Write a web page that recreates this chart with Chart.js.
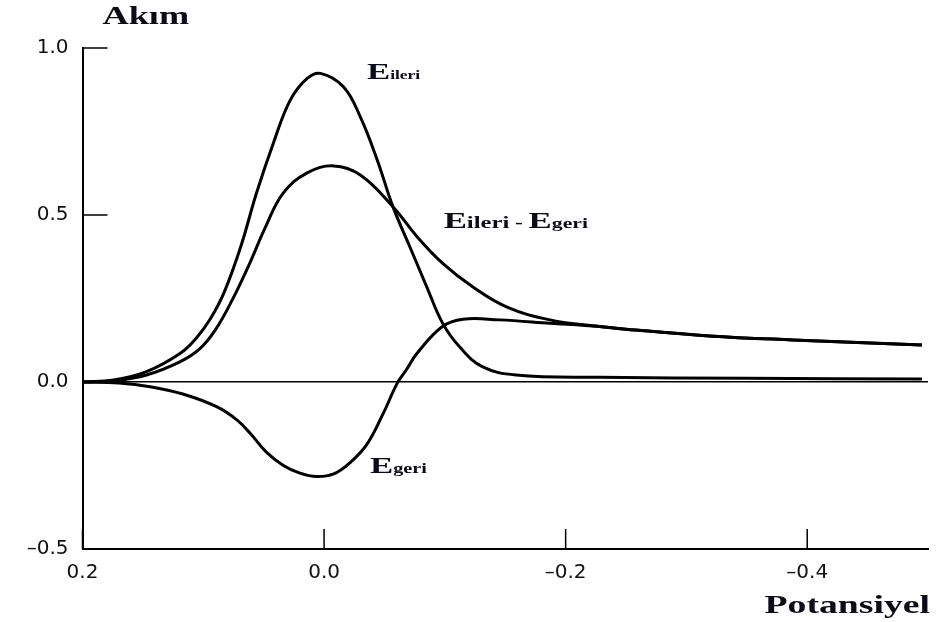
<!DOCTYPE html>
<html>
<head>
<meta charset="utf-8">
<script src="https://cdn.jsdelivr.net/npm/chart.js@4"></script>
<style>
    body { margin: 0; background: #fff; }
</style>
</head>
<body>
<canvas id="voltChart" width="940" height="622"></canvas>
<script>
// potential (x) and current (y) values
const xIleri = [0.2, 0.174, 0.147, 0.119, 0.105, 0.094, 0.083, 0.069, 0.056, 0.042, 0.028, 0.014, 0.003, -0.016, -0.030, -0.044, -0.057, -0.071, -0.085, -0.098, -0.112, -0.131, -0.159, -0.228, -0.35, -0.495];
const yIleri = [0, 0.006, 0.031, 0.086, 0.135, 0.19, 0.266, 0.405, 0.565, 0.715, 0.844, 0.909, 0.924, 0.884, 0.794, 0.665, 0.525, 0.405, 0.285, 0.177, 0.106, 0.046, 0.021, 0.014, 0.011, 0.009];

const xFark = [0.2, 0.174, 0.147, 0.119, 0.103, 0.090, 0.076, 0.061, 0.049, 0.034, 0.014, -0.008, -0.030, -0.057, -0.077, -0.098, -0.123, -0.151, -0.187, -0.228, -0.25, -0.319, -0.388, -0.495];
const yFark = [0, 0.004, 0.021, 0.061, 0.099, 0.156, 0.246, 0.36, 0.46, 0.565, 0.626, 0.647, 0.620, 0.525, 0.435, 0.356, 0.285, 0.225, 0.186, 0.166, 0.158, 0.138, 0.126, 0.111];

const xGeri = [0.2, 0.17, 0.144, 0.117, 0.089, 0.072, 0.061, 0.048, 0.034, 0.020, 0.006, -0.008, -0.021, -0.035, -0.049, -0.0605, -0.068, -0.077, -0.098, -0.115, -0.145, -0.187, -0.228, -0.25, -0.319, -0.388, -0.495];
const yGeri = [0, -0.003, -0.014, -0.036, -0.074, -0.114, -0.154, -0.209, -0.249, -0.273, -0.283, -0.275, -0.243, -0.189, -0.094, -0.004, 0.036, 0.086, 0.166, 0.188, 0.186, 0.176, 0.166, 0.158, 0.138, 0.126, 0.111];

const xTicks = [0.2, 0, -0.2, -0.4];
const xTickLabels = ['0.2', '0.0', '\u20130.2', '\u20130.4'];
const yTicks = [1.0, 0.5, 0, -0.5];
const yTickLabels = ['1.0', '0.5', '0.0', '\u20130.5'];

const toPoints = (xs, ys) => xs.map((x, i) => ({ x, y: ys[i] }));

const SERIF = '"Liberation Serif", "Times New Roman", serif';
const STRETCH = 1.45;
const INK = '#0b0b1a';

// curve labels, anchored in data coordinates (left edge, baseline)
const curveLabels = [
    { x: -0.0355, y: 0.907, parts: [['E', 24], ['ileri', 12]] },
    { x: -0.099, y: 0.461, parts: [['E', 24], ['ileri', 17], [' - ', 16], ['E', 24], ['geri', 15]] },
    { x: -0.038, y: -0.272, parts: [['E', 24], ['geri', 14]] },
];

const drawStretched = (ctx, text, x, y, size, align) => {
    ctx.save();
    ctx.font = 'bold ' + size + 'px ' + SERIF;
    const w = ctx.measureText(text).width * STRETCH;
    ctx.translate(align === 'right' ? x - w : x, y);
    ctx.scale(STRETCH, 1);
    ctx.textBaseline = 'alphabetic';
    ctx.textAlign = 'left';
    ctx.fillText(text, 0, 0);
    ctx.restore();
    return w;
};

const decorations = {
    id: 'decorations',
    afterDraw(chart) {
        const { ctx, chartArea, scales } = chart;
        ctx.save();
        ctx.strokeStyle = '#000';
        ctx.lineWidth = 1.5;
        ctx.beginPath();
        yTicks.forEach((v) => {
            const py = scales.y.getPixelForValue(v);
            ctx.moveTo(chartArea.left, py);
            ctx.lineTo(chartArea.left + 25, py);
        });
        xTicks.forEach((v) => {
            const px = scales.x.getPixelForValue(v);
            ctx.moveTo(px, chartArea.bottom);
            ctx.lineTo(px, chartArea.bottom - 20);
        });
        ctx.stroke();

        ctx.fillStyle = INK;
        drawStretched(ctx, 'Akım', chartArea.left + 20, 24, 25);
        drawStretched(ctx, 'Potansiyel', 930, 613, 26, 'right');

        curveLabels.forEach((label) => {
            let px = scales.x.getPixelForValue(label.x);
            const py = scales.y.getPixelForValue(label.y);
            label.parts.forEach(([text, size]) => {
                px += drawStretched(ctx, text, px, py, size);
            });
        });
        ctx.restore();
    },
};

const line = (xs, ys) => ({
    data: toPoints(xs, ys),
    borderColor: '#000',
    borderWidth: 3,
    pointRadius: 0,
    fill: false,
    tension: 0.4,
});

new Chart(document.getElementById('voltChart'), {
    type: 'line',
    data: {
        datasets: [line(xIleri, yIleri), line(xFark, yFark), line(xGeri, yGeri)],
    },
    options: {
        responsive: false,
        animation: false,
        devicePixelRatio: 1,
        layout: {
            padding: { top: 48, right: 12, bottom: 0, left: 0 },
        },
        plugins: {
            legend: { display: false },
            tooltip: { enabled: false },
        },
        scales: {
            x: {
                type: 'linear',
                reverse: true,
                min: -0.5,
                max: 0.2,
                afterBuildTicks: (scale) => {
                    scale.ticks = xTicks.map((value) => ({ value }));
                },
                afterFit: (scale) => {
                    scale.height = 73;
                },
                ticks: {
                    padding: 4,
                    color: '#111',
                    font: { family: '"DejaVu Sans", sans-serif', size: 20 },
                    maxRotation: 0,
                    callback: (value, index) => xTickLabels[index],
                },
                grid: { display: false },
                border: { display: true, color: '#000', width: 2 },
            },
            y: {
                min: -0.5,
                max: 1.0,
                afterBuildTicks: (scale) => {
                    scale.ticks = yTicks.map((value) => ({ value }));
                },
                afterFit: (scale) => {
                    scale.width = 82.5;
                },
                ticks: {
                    padding: 14,
                    color: '#111',
                    font: { family: '"DejaVu Sans", sans-serif', size: 20 },
                    callback: (value, index) => yTickLabels[index],
                },
                grid: {
                    drawTicks: false,
                    lineWidth: 1.5,
                    color: (ctx) => (ctx.tick && ctx.tick.value === 0 ? '#000' : 'rgba(0,0,0,0)'),
                },
                border: { display: true, color: '#000', width: 2 },
            },
        },
    },
    plugins: [decorations],
});
</script>
</body>
</html>
